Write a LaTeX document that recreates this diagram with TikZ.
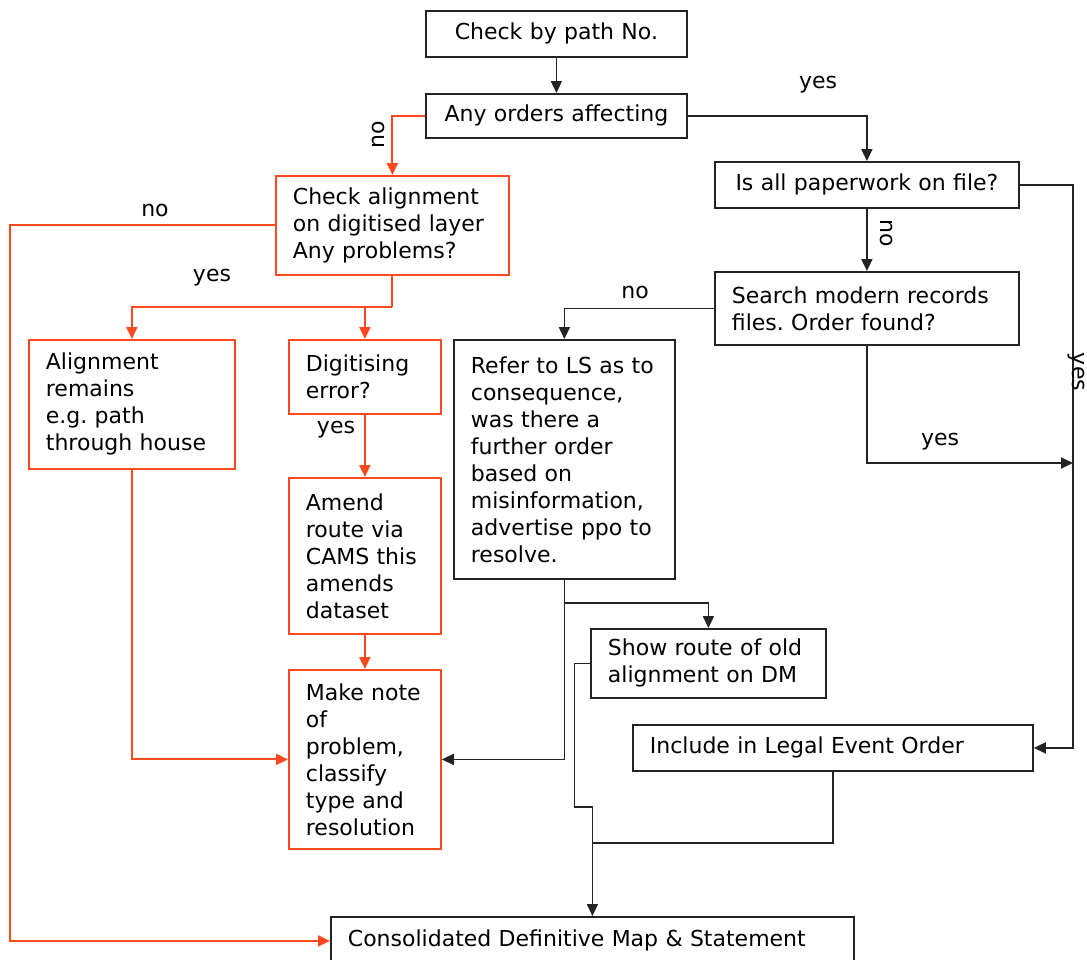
\documentclass[tikz,border=0pt]{standalone}
\usepackage{fontspec}
\setmainfont{DejaVu Sans}
\usetikzlibrary{arrows.meta}
\definecolor{rd}{RGB}{255,72,30}
\definecolor{bk}{RGB}{35,35,35}
\frenchspacing
\begin{document}
\begin{tikzpicture}[x=1pt,y=-1pt,
  every node/.style={font=\fontsize{22}{27}\selectfont},
  bx/.style={draw=bk, line width=1.8pt, rectangle, inner xsep=17pt, inner ysep=4pt, anchor=north west, align=left},
  rbx/.style={bx, draw=rd},
  ln/.style={draw=bk, line width=1.8pt},
  ar/.style={ln, -{Triangle[length=12pt,width=11pt]}},
  rln/.style={draw=rd, line width=2pt},
  rar/.style={rln, -{Triangle[length=12pt,width=11pt]}},
  lbl/.style={inner sep=0pt, text=black}]
\useasboundingbox (0,0) rectangle (1087,959);

% boxes
\node[bx, text width=227pt, minimum height=46pt, align=center] (b1) at (425,10) {Check by path No.};
\node[bx, text width=227pt, minimum height=44pt, align=center] (b2) at (425,93) {Any orders affecting};
\node[rbx, text width=199pt, minimum height=99pt] (b3) at (275,175) {Check alignment\\on digitised layer\\Any problems?};
\node[bx, text width=270pt, minimum height=46pt, align=center] (b4) at (714,161) {Is all paperwork on file?};
\node[bx, text width=270pt, minimum height=73pt] (b5) at (714,271) {Search modern records\\files. Order found?};
\node[rbx, text width=172pt, minimum height=129pt] (b6) at (28,339) {Alignment\\remains\\e.g. path\\through house};
\node[rbx, text width=118pt, minimum height=74pt] (b7) at (288,339) {Digitising\\error?};
\node[bx, text width=187pt, minimum height=239pt] (b8) at (453,339) {Refer to LS as to\\consequence,\\was there a\\further order\\based on\\misinformation,\\advertise ppo to\\resolve.};
\node[rbx, text width=118pt, minimum height=156pt] (b9) at (288,477) {Amend\\route via\\CAMS this\\amends\\dataset};
\node[rbx, text width=118pt, minimum height=179pt] (b10) at (288,669) {Make note\\of\\problem,\\classify\\type and\\resolution};
\node[bx, text width=201pt, minimum height=69pt] (b11) at (590,628) {Show route of old\\alignment on DM};
\node[bx, text width=366pt, minimum height=46pt] (b12) at (632,724) {Include in Legal Event Order};
\node[bx, text width=489pt, minimum height=48pt] (b13) at (330,916) {Consolidated Definitive Map \& Statement};

% junction coordinates
\coordinate (j1) at (b3.south |- {(0,307)});
\coordinate (j2) at (b8.south |- {(0,603)});
\coordinate (j3) at (b13.north |- {(0,843)});
\coordinate (c1) at (b13.west -| {(10,0)});
\coordinate (c2) at (574.5,807);
\coordinate (c3) at (1073,463);
\coordinate (c4) at (b12.east -| {(1073,0)});

% black connectors
\draw[ar] (b1.south) -- (b2.north);
\draw[ar] (b2.east) -| (b4.north);
\draw[ar] (b4.south) -- (b5.north);
\draw[ar] (b5.west) -| (b8.north);
\draw[ar] (b5.south) |- (c3);
\draw[ar] (b4.east) -| (c4) -- (b12.east);
\draw[ar] (b8.south) |- (b10.east);
\draw[ar] (j2) -| (b11.north);
\draw[ar] (b11.west) -| (c2) -| (b13.north);
\draw[ln] (b12.south) |- (j3);

% red connectors
\draw[rar] (b2.west) -| (b3.north);
\draw[rar] (b3.west) -| (c1) -- (b13.west);
\draw[rln] (b3.south) -- (j1);
\draw[rar] (j1) -| (b6.north);
\draw[rar] (j1) -| (b7.north);
\draw[rar] (b7.south) -- (b9.north);
\draw[rar] (b9.south) -- (b10.north);
\draw[rar] (b6.south) |- (b10.west);

% labels
\node[lbl, rotate=90] (l1) at (378,135) {no};
\node[lbl] (l2) at (818,85) {yes};
\node[lbl] (l3) at (155,210) {no};
\node[lbl] (l4) at (212,278) {yes};
\node[lbl] (l5) at (336,430) {yes};
\node[lbl, rotate=-90] (l6) at (886,233) {no};
\node[lbl] (l7) at (635,292) {no};
\node[lbl] (l8) at (940,442) {yes};
\node[lbl, rotate=-90] (l9) at (1076,372) {yes};
\end{tikzpicture}
\end{document}
